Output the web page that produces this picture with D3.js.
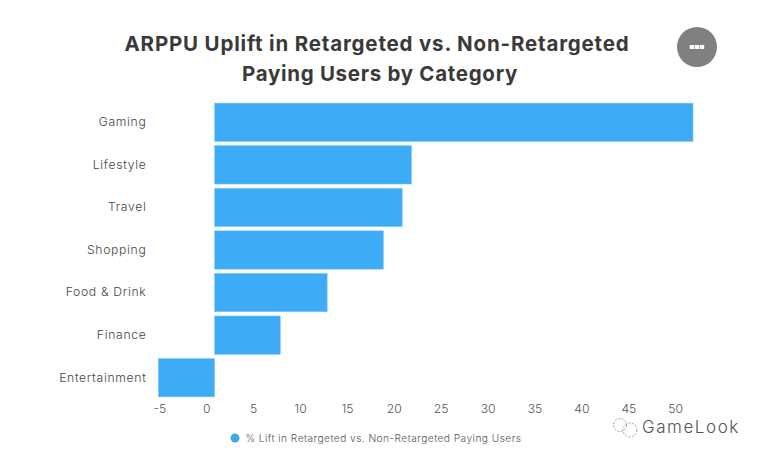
<!DOCTYPE html>
<html><head><meta charset="utf-8">
<script src="https://cdn.jsdelivr.net/npm/d3@7"></script>
<style>html,body{margin:0;padding:0;background:#fff}svg{display:block}text{font-family:Inter,"Noto Sans",sans-serif}</style>
</head><body><svg id="c" width="763" height="457"></svg>
<script>
const categories=["Gaming","Lifestyle","Travel","Shopping","Food & Drink","Finance","Entertainment"];
const values=[52,22,21,19,13,8,-5];
const tickValues=[-5,0,5,10,15,20,25,30,35,40,45,50];
const titleLines=["ARPPU Uplift in Retargeted vs. Non-Retargeted","Paying Users by Category"];
const legendLabel="% Lift in Retargeted vs. Non-Retargeted Paying Users";
const baselineValue=1;
const svg=d3.select("#c");
const x=d3.scaleLinear().domain([-5,52]).range([158.3,693]);
const y=d3.scaleBand().domain(categories).range([101,399]).paddingInner(0.1).paddingOuter(0.05);
svg.append("g").selectAll("text").data(titleLines).join("text")
 .attr("x",(d,i)=>i?380:377).attr("y",(d,i)=>51+i*30).attr("text-anchor","middle")
 .attr("font-size",20.5).attr("font-weight",700).attr("letter-spacing",(d,i)=>i?.7:.82).attr("fill","#3a3a3a").text(d=>d);
svg.append("g").selectAll("rect").data(values).join("rect")
 .attr("x",d=>Math.min(x(d),x(baselineValue))).attr("width",d=>Math.abs(x(d)-x(baselineValue)))
 .attr("y",(d,i)=>y(categories[i])).attr("height",y.bandwidth())
 .attr("fill","#3dabf6").attr("stroke","#7cc8f8").attr("stroke-width",.6);
const yAxis=svg.append("g").attr("transform","translate(146.5,0)").call(d3.axisLeft(y).tickSize(0).tickPadding(0));
yAxis.select(".domain").remove();
yAxis.selectAll("text").attr("font-size",12.2).attr("font-family","Inter,sans-serif").attr("font-weight",300).attr("letter-spacing",.68).attr("fill","#444");
const xAxis=svg.append("g").attr("transform","translate(1,403)").call(d3.axisBottom(x).tickValues(tickValues).tickFormat(d=>String(d)).tickSize(0).tickPadding(1));
xAxis.select(".domain").remove();
xAxis.selectAll("text").attr("font-size",12.2).attr("font-family","Inter,sans-serif").attr("font-weight",300).attr("fill","#555");
svg.append("circle").attr("cx",235).attr("cy",438).attr("r",4.5).attr("fill","#3fa9e6");
svg.append("text").attr("x",245.5).attr("y",442).attr("font-size",10.2).attr("font-weight",300).attr("letter-spacing",.44).attr("fill","#555").text(legendLabel);
svg.append("circle").attr("cx",697).attr("cy",47).attr("r",20).attr("fill","#808080");
svg.append("g").selectAll("rect").data([-1,0,1]).join("rect").attr("x",d=>697+d*5-2.2).attr("y",45).attr("width",4.4).attr("height",4).attr("fill","#fff");
svg.append("text").attr("x",642).attr("y",433).attr("font-size",17).attr("font-family","Roboto,sans-serif").attr("font-weight",300).attr("letter-spacing",1.55).attr("fill","#555").text("GameLook");
[[620,425,6.5],[630,430,7]].forEach(c=>svg.append("circle").attr("cx",c[0]).attr("cy",c[1]).attr("r",c[2]).attr("fill","none").attr("stroke","#888").attr("stroke-width",.8).attr("stroke-dasharray","2 1.5"));
</script></body></html>
